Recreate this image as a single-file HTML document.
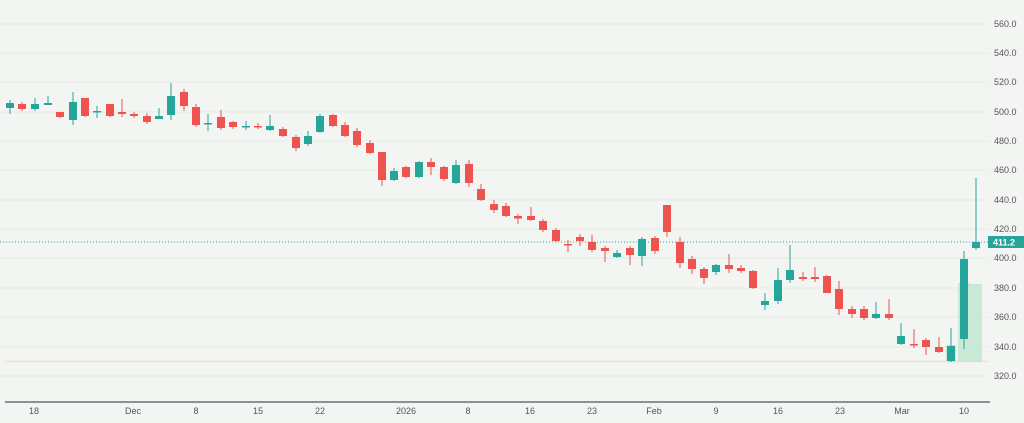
<!DOCTYPE html>
<html><head><meta charset="utf-8"><style>
html,body{margin:0;padding:0;background:#f2f5f2;}
svg{display:block;font-family:"Liberation Sans",sans-serif;}
.r line{stroke:#ef5350;stroke-width:1}
.r rect{fill:#ef5350}
.g line{stroke:#26a69a;stroke-width:1}
.g rect{fill:#26a69a}
.ax text{font-size:9px;fill:#555}
.bx text{font-size:9px;fill:#555;text-anchor:middle}
</style></head><body>
<svg width="1024" height="423" viewBox="0 0 1024 423">
<rect width="1024" height="423" fill="#f2f5f2"/>
<g stroke="#e6ebe6" stroke-width="1">
<line x1="0" x2="988" y1="24" y2="24"/><line x1="0" x2="988" y1="53" y2="53"/><line x1="0" x2="988" y1="82" y2="82"/><line x1="0" x2="988" y1="112" y2="112"/><line x1="0" x2="988" y1="141" y2="141"/><line x1="0" x2="988" y1="170" y2="170"/><line x1="0" x2="988" y1="200" y2="200"/><line x1="0" x2="988" y1="229" y2="229"/><line x1="0" x2="988" y1="258" y2="258"/><line x1="0" x2="988" y1="288" y2="288"/><line x1="0" x2="988" y1="317" y2="317"/><line x1="0" x2="988" y1="347" y2="347"/><line x1="0" x2="988" y1="376" y2="376"/>
</g>
<!-- volume -->
<line x1="5" x2="988" y1="361.5" y2="361.5" stroke="#f3dcdc" stroke-width="1.5"/>
<rect x="946" y="345" width="10" height="17" fill="#c9e9d6"/>
<rect x="958" y="283" width="12" height="79" fill="#c9e9d6"/>
<rect x="970" y="284" width="12" height="78" fill="#c9e9d6"/>
<line x1="0" x2="988" y1="242" y2="242" stroke="#26a69a" stroke-width="1" stroke-dasharray="1,2"/>
<!-- candles -->
<g class="g"><line x1="10" x2="10" y1="100" y2="114"/><rect x="6" y="103" width="8" height="5"/></g>
<g class="r"><line x1="22" x2="22" y1="102" y2="111"/><rect x="18" y="104" width="8" height="5"/></g>
<g class="g"><line x1="35" x2="35" y1="98" y2="111"/><rect x="31" y="104" width="8" height="5"/></g>
<g class="g"><line x1="48" x2="48" y1="96" y2="105"/><rect x="44" y="103" width="8" height="2"/></g>
<g class="r"><line x1="60" x2="60" y1="112" y2="118"/><rect x="56" y="112" width="8" height="5"/></g>
<g class="g"><line x1="73" x2="73" y1="92" y2="125"/><rect x="69" y="102" width="8" height="18"/></g>
<g class="r"><line x1="85" x2="85" y1="98" y2="117"/><rect x="81" y="98" width="8" height="18"/></g>
<g class="g"><line x1="97" x2="97" y1="106" y2="118"/><rect x="93" y="111" width="8" height="1.5"/></g>
<g class="r"><line x1="110" x2="110" y1="104" y2="117"/><rect x="106" y="104" width="8" height="12"/></g>
<g class="r"><line x1="122" x2="122" y1="99" y2="117"/><rect x="118" y="112" width="8" height="2"/></g>
<g class="r"><line x1="134" x2="134" y1="112" y2="118"/><rect x="130" y="114" width="8" height="2"/></g>
<g class="r"><line x1="147" x2="147" y1="113" y2="124"/><rect x="143" y="116" width="8" height="6"/></g>
<g class="g"><line x1="159" x2="159" y1="108" y2="119"/><rect x="155" y="116" width="8" height="3"/></g>
<g class="g"><line x1="171" x2="171" y1="83" y2="120"/><rect x="167" y="96" width="8" height="19"/></g>
<g class="r"><line x1="184" x2="184" y1="89" y2="111"/><rect x="180" y="92" width="8" height="14"/></g>
<g class="r"><line x1="196" x2="196" y1="104" y2="127"/><rect x="192" y="107" width="8" height="18"/></g>
<g class="g"><line x1="208" x2="208" y1="114" y2="131"/><rect x="204" y="123" width="8" height="1.5"/></g>
<g class="r"><line x1="221" x2="221" y1="110" y2="130"/><rect x="217" y="117" width="8" height="11"/></g>
<g class="r"><line x1="233" x2="233" y1="121" y2="129"/><rect x="229" y="122" width="8" height="5"/></g>
<g class="g"><line x1="246" x2="246" y1="121" y2="130"/><rect x="242" y="126" width="8" height="1.5"/></g>
<g class="r"><line x1="258" x2="258" y1="123" y2="129"/><rect x="254" y="126" width="8" height="1.5"/></g>
<g class="g"><line x1="270" x2="270" y1="115" y2="131"/><rect x="266" y="126" width="8" height="4"/></g>
<g class="r"><line x1="283" x2="283" y1="127" y2="137"/><rect x="279" y="129" width="8" height="7"/></g>
<g class="r"><line x1="296" x2="296" y1="135" y2="151"/><rect x="292" y="137" width="8" height="11"/></g>
<g class="g"><line x1="308" x2="308" y1="131" y2="146"/><rect x="304" y="136" width="8" height="8"/></g>
<g class="g"><line x1="320" x2="320" y1="114" y2="133"/><rect x="316" y="116" width="8" height="16"/></g>
<g class="r"><line x1="333" x2="333" y1="114" y2="127"/><rect x="329" y="115" width="8" height="11"/></g>
<g class="r"><line x1="345" x2="345" y1="122" y2="137"/><rect x="341" y="125" width="8" height="11"/></g>
<g class="r"><line x1="357" x2="357" y1="128" y2="147"/><rect x="353" y="131" width="8" height="14"/></g>
<g class="r"><line x1="370" x2="370" y1="140" y2="154"/><rect x="366" y="143" width="8" height="10"/></g>
<g class="r"><line x1="382" x2="382" y1="152" y2="186"/><rect x="378" y="152" width="8" height="28"/></g>
<g class="g"><line x1="394" x2="394" y1="168" y2="181"/><rect x="390" y="171" width="8" height="9"/></g>
<g class="r"><line x1="406" x2="406" y1="166" y2="178"/><rect x="402" y="167" width="8" height="10"/></g>
<g class="g"><line x1="419" x2="419" y1="161" y2="178"/><rect x="415" y="162" width="8" height="15"/></g>
<g class="r"><line x1="431" x2="431" y1="158" y2="175"/><rect x="427" y="162" width="8" height="5"/></g>
<g class="r"><line x1="444" x2="444" y1="166" y2="181"/><rect x="440" y="167" width="8" height="12"/></g>
<g class="g"><line x1="456" x2="456" y1="160" y2="184"/><rect x="452" y="165" width="8" height="18"/></g>
<g class="r"><line x1="469" x2="469" y1="160" y2="187"/><rect x="465" y="164" width="8" height="19"/></g>
<g class="r"><line x1="481" x2="481" y1="184" y2="201"/><rect x="477" y="189" width="8" height="11"/></g>
<g class="r"><line x1="494" x2="494" y1="200" y2="213"/><rect x="490" y="204" width="8" height="6"/></g>
<g class="r"><line x1="506" x2="506" y1="203" y2="217"/><rect x="502" y="206" width="8" height="10"/></g>
<g class="r"><line x1="518" x2="518" y1="214" y2="224"/><rect x="514" y="216" width="8" height="2.5"/></g>
<g class="r"><line x1="531" x2="531" y1="207" y2="221"/><rect x="527" y="216" width="8" height="4"/></g>
<g class="r"><line x1="543" x2="543" y1="219" y2="232"/><rect x="539" y="221" width="8" height="9"/></g>
<g class="r"><line x1="556" x2="556" y1="228" y2="242"/><rect x="552" y="230" width="8" height="11"/></g>
<g class="r"><line x1="568" x2="568" y1="240" y2="252"/><rect x="564" y="244" width="8" height="1.5"/></g>
<g class="r"><line x1="580" x2="580" y1="234" y2="246"/><rect x="576" y="237" width="8" height="4"/></g>
<g class="r"><line x1="592" x2="592" y1="235" y2="252"/><rect x="588" y="242" width="8" height="8"/></g>
<g class="r"><line x1="605" x2="605" y1="246" y2="262"/><rect x="601" y="248" width="8" height="3"/></g>
<g class="g"><line x1="617" x2="617" y1="250" y2="258"/><rect x="613" y="253" width="8" height="4"/></g>
<g class="r"><line x1="630" x2="630" y1="246" y2="265"/><rect x="626" y="248" width="8" height="7"/></g>
<g class="g"><line x1="642" x2="642" y1="237" y2="266"/><rect x="638" y="239" width="8" height="17"/></g>
<g class="r"><line x1="655" x2="655" y1="236" y2="254"/><rect x="651" y="238" width="8" height="13"/></g>
<g class="r"><line x1="667" x2="667" y1="205" y2="237"/><rect x="663" y="205" width="8" height="27"/></g>
<g class="r"><line x1="680" x2="680" y1="237" y2="268"/><rect x="676" y="242" width="8" height="21"/></g>
<g class="r"><line x1="692" x2="692" y1="256" y2="274"/><rect x="688" y="259" width="8" height="10"/></g>
<g class="r"><line x1="704" x2="704" y1="267" y2="284"/><rect x="700" y="269" width="8" height="9"/></g>
<g class="g"><line x1="716" x2="716" y1="264" y2="275"/><rect x="712" y="265" width="8" height="7"/></g>
<g class="r"><line x1="729" x2="729" y1="254" y2="273"/><rect x="725" y="265" width="8" height="4"/></g>
<g class="r"><line x1="741" x2="741" y1="265" y2="273"/><rect x="737" y="268" width="8" height="3"/></g>
<g class="r"><line x1="753" x2="753" y1="270" y2="289"/><rect x="749" y="271" width="8" height="17"/></g>
<g class="g"><line x1="765" x2="765" y1="293" y2="310"/><rect x="761" y="301" width="8" height="4"/></g>
<g class="g"><line x1="778" x2="778" y1="268" y2="304"/><rect x="774" y="280" width="8" height="21"/></g>
<g class="g"><line x1="790" x2="790" y1="245" y2="283"/><rect x="786" y="270" width="8" height="10"/></g>
<g class="r"><line x1="803" x2="803" y1="272" y2="281"/><rect x="799" y="277" width="8" height="2"/></g>
<g class="r"><line x1="815" x2="815" y1="267" y2="282"/><rect x="811" y="277" width="8" height="2"/></g>
<g class="r"><line x1="827" x2="827" y1="275" y2="293"/><rect x="823" y="276" width="8" height="17"/></g>
<g class="r"><line x1="839" x2="839" y1="281" y2="315"/><rect x="835" y="289" width="8" height="20"/></g>
<g class="r"><line x1="852" x2="852" y1="306" y2="318"/><rect x="848" y="309" width="8" height="5"/></g>
<g class="r"><line x1="864" x2="864" y1="306" y2="320"/><rect x="860" y="309" width="8" height="9"/></g>
<g class="g"><line x1="876" x2="876" y1="302" y2="319"/><rect x="872" y="314" width="8" height="4"/></g>
<g class="r"><line x1="889" x2="889" y1="299" y2="320"/><rect x="885" y="314" width="8" height="4"/></g>
<g class="g"><line x1="901" x2="901" y1="323" y2="345"/><rect x="897" y="336" width="8" height="8"/></g>
<g class="r"><line x1="914" x2="914" y1="329" y2="348"/><rect x="910" y="344" width="8" height="1.5"/></g>
<g class="r"><line x1="926" x2="926" y1="338" y2="355"/><rect x="922" y="340" width="8" height="7"/></g>
<g class="r"><line x1="939" x2="939" y1="337" y2="353"/><rect x="935" y="347" width="8" height="5"/></g>
<g class="g"><line x1="951" x2="951" y1="328" y2="362"/><rect x="947" y="346" width="8" height="15"/></g>
<g class="g"><line x1="964" x2="964" y1="251" y2="349"/><rect x="960" y="259" width="8" height="80"/></g>
<g class="g"><line x1="976" x2="976" y1="178" y2="250"/><rect x="972" y="242" width="8" height="6"/></g>
<!-- axes -->
<line x1="5" x2="990" y1="402" y2="402" stroke="#6b7280" stroke-width="1.5"/>
<g class="ax">
<text x="994" y="27">560.0</text><text x="994" y="56">540.0</text><text x="994" y="85">520.0</text><text x="994" y="115">500.0</text><text x="994" y="144">480.0</text><text x="994" y="173">460.0</text><text x="994" y="203">440.0</text><text x="994" y="232">420.0</text><text x="994" y="261">400.0</text><text x="994" y="291">380.0</text><text x="994" y="320">360.0</text><text x="994" y="350">340.0</text><text x="994" y="379">320.0</text>
</g>
<rect x="988" y="236" width="36" height="12" fill="#26a69a"/>
<text x="993" y="245.5" font-size="9" fill="#fff" font-weight="bold">411.2</text>
<g class="bx">
<text x="34" y="414">18</text><text x="133" y="414">Dec</text><text x="196" y="414">8</text><text x="258" y="414">15</text><text x="320" y="414">22</text><text x="406" y="414">2026</text><text x="468" y="414">8</text><text x="530" y="414">16</text><text x="592" y="414">23</text><text x="654" y="414">Feb</text><text x="716" y="414">9</text><text x="778" y="414">16</text><text x="840" y="414">23</text><text x="902" y="414">Mar</text><text x="964" y="414">10</text>
</g>
</svg>
</body></html>
